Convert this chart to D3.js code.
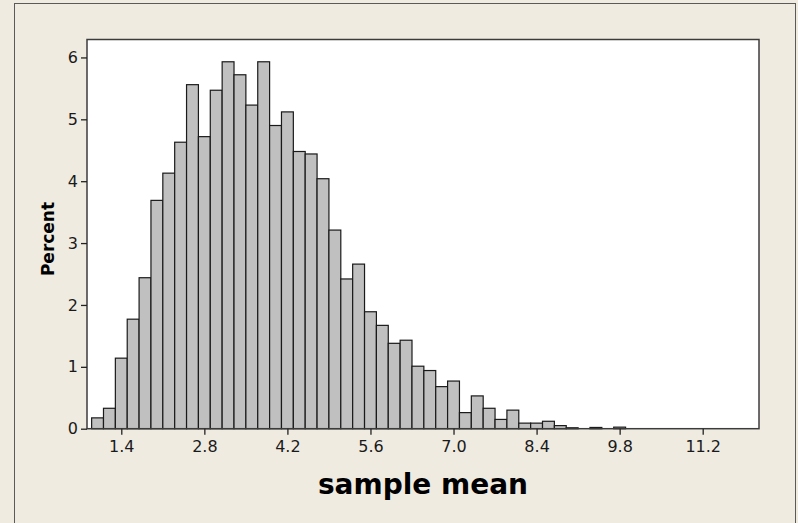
<!DOCTYPE html>
<html>
<head>
<meta charset="utf-8">
<script src="https://cdn.jsdelivr.net/npm/d3@7"></script>
<style>
  html, body { margin: 0; padding: 0; background: #efebe1; }
  svg { display: block; font-family: "DejaVu Sans", sans-serif; }
</style>
</head>
<body>
<div id="chart"></div>
<script>
// histogram bins (midpoints) and percent per bin
var binMids = [1.0, 1.2, 1.4, 1.6, 1.8, 2.0, 2.2, 2.4, 2.6, 2.8,
               3.0, 3.2, 3.4, 3.6, 3.8, 4.0, 4.2, 4.4, 4.6, 4.8,
               5.0, 5.2, 5.4, 5.6, 5.8, 6.0, 6.2, 6.4, 6.6, 6.8,
               7.0, 7.2, 7.4, 7.6, 7.8, 8.0, 8.2, 8.4, 8.6, 8.8,
               9.0, 9.2, 9.4, 9.6, 9.8];
var percents = [0.175, 0.33, 1.14, 1.77, 2.44, 3.69, 4.13, 4.63, 5.56, 4.72,
                5.47, 5.93, 5.72, 5.23, 5.93, 4.90, 5.12, 4.48, 4.44, 4.04,
                3.21, 2.42, 2.66, 1.89, 1.67, 1.38, 1.43, 1.01, 0.94, 0.68,
                0.77, 0.26, 0.53, 0.33, 0.15, 0.30, 0.09, 0.09, 0.12, 0.05,
                0.015, 0, 0.02, 0, 0.025];
var binWidth = 0.2;
var xTicks = [1.4, 2.8, 4.2, 5.6, 7.0, 8.4, 9.8, 11.2];
var yTicks = [0, 1, 2, 3, 4, 5, 6];

var width = 798, height = 523;
var plotLeft = 87, plotRight = 759, plotTop = 39.5, plotBottom = 428.7;

var svg = d3.select("#chart").append("svg")
  .attr("width", width)
  .attr("height", height);

// outer panel border
svg.append("rect")
  .attr("x", 14.5).attr("y", 3.5)
  .attr("width", 781).attr("height", 540)
  .attr("fill", "#efebe1")
  .attr("stroke", "#5a5a5a")
  .attr("stroke-width", 1);

var x = d3.scaleLinear().domain([0.822, 12.149]).range([plotLeft, plotRight]);
var y = d3.scaleLinear().domain([0, 6.29]).range([plotBottom, plotTop]);

// plot area
svg.append("rect")
  .attr("x", plotLeft).attr("y", plotTop)
  .attr("width", plotRight - plotLeft).attr("height", plotBottom - plotTop)
  .attr("fill", "#fff");

var bins = binMids.map(function (m, i) { return { mid: m, v: percents[i] }; })
  .filter(function (d) { return d.v > 0; });

svg.append("g")
  .selectAll("rect")
  .data(bins)
  .enter().append("rect")
  .attr("x", function (d) { return x(d.mid - binWidth / 2); })
  .attr("y", function (d) { return y(d.v); })
  .attr("width", function (d) { return x(d.mid + binWidth / 2) - x(d.mid - binWidth / 2); })
  .attr("height", function (d) { return y(0) - y(d.v); })
  .attr("fill", "#c0c0c0")
  .attr("stroke", "#1a1a1a")
  .attr("stroke-width", 1.2);

// frame
svg.append("rect")
  .attr("x", plotLeft).attr("y", plotTop)
  .attr("width", plotRight - plotLeft).attr("height", plotBottom - plotTop)
  .attr("fill", "none")
  .attr("stroke", "#3c3c3c")
  .attr("stroke-width", 1.5);

// axes
var xAxis = svg.append("g")
  .attr("transform", "translate(0," + plotBottom + ")")
  .call(d3.axisBottom(x).tickValues(xTicks).tickFormat(d3.format(".1f")).tickSize(6).tickPadding(6));

var yAxis = svg.append("g")
  .attr("transform", "translate(" + plotLeft + ",0)")
  .call(d3.axisLeft(y).tickValues(yTicks).tickFormat(d3.format("d")).tickSize(6).tickPadding(3));

[xAxis, yAxis].forEach(function (a) {
  a.select(".domain").remove();
  a.selectAll("line").attr("stroke", "#222").attr("stroke-width", 1.3);
  a.selectAll("text")
    .attr("fill", "#1a1a1a")
    .style("font-size", "16px")
    .style("font-family", "'DejaVu Sans', sans-serif");
});

// axis titles
svg.append("text")
  .attr("x", (plotLeft + plotRight) / 2)
  .attr("y", 494)
  .attr("text-anchor", "middle")
  .style("font-size", "28px")
  .style("font-weight", "bold")
  .attr("fill", "#000")
  .text("sample mean");

svg.append("text")
  .attr("transform", "translate(54,239) rotate(-90)")
  .attr("text-anchor", "middle")
  .style("font-size", "17px")
  .style("font-weight", "bold")
  .attr("fill", "#000")
  .text("Percent");
</script>
</body>
</html>
